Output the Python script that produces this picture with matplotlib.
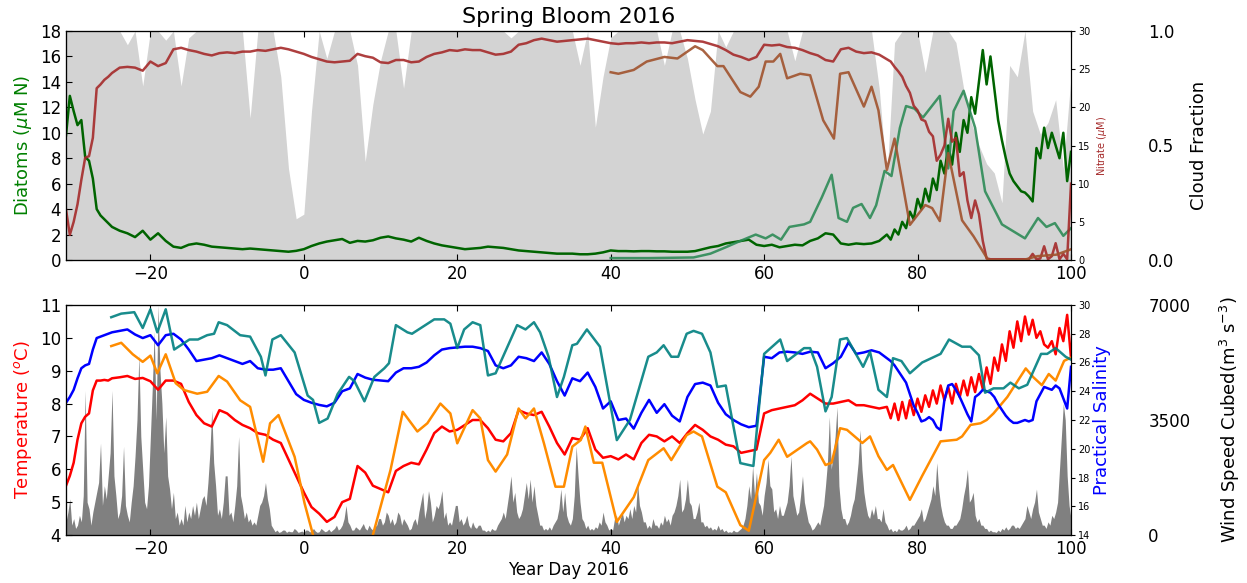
import numpy as np
import matplotlib
matplotlib.use('Agg')
import matplotlib.pyplot as plt

plt.rcParams['font.family'] = ['DejaVu Sans']

# ---------------- data ----------------
# model grid: half-day early, daily middle, half-day late
model_day = np.concatenate([np.arange(-31, -25, 0.5), np.arange(-25, 76, 1.0), np.arange(76, 100.01, 0.5)])

diatoms_early = [9.8, 12.9, 11.7, 10.6, 11.0, 8.1, 7.8, 6.4, 4.0, 3.5, 3.2, 2.9]
diatoms_mid = [
    2.6, 2.3, 2.1, 1.8, 2.3, 1.6, 2.1, 1.5, 1.05, 0.95,
    1.2, 1.3, 1.2, 1.05, 1.0, 0.95, 0.9, 0.85, 0.9, 0.85,
    0.8, 0.75, 0.7, 0.65, 0.72, 0.85, 1.1, 1.3, 1.45, 1.55,
    1.65, 1.35, 1.5, 1.45, 1.55, 1.75, 1.85, 1.7, 1.6, 1.45,
    1.75, 1.5, 1.3, 1.15, 1.05, 0.95, 0.85, 0.9, 0.95, 1.05,
    1.0, 0.95, 0.85, 0.75, 0.7, 0.65, 0.6, 0.55, 0.5, 0.5,
    0.5, 0.45, 0.45, 0.5, 0.6, 0.75, 0.7, 0.7, 0.68, 0.7,
    0.7, 0.68, 0.68, 0.65, 0.65, 0.65, 0.7, 0.85, 1.0, 1.1,
    1.3, 1.4, 1.5, 1.6, 1.2, 1.1, 1.2, 1.0, 1.1, 1.2,
    1.15, 1.5, 1.7, 2.1, 2.0, 1.3, 1.2, 1.3, 1.25, 1.3,
    1.5]
diatoms_late = [
    2.0, 1.6, 2.4, 2.0, 3.0, 2.5, 3.8, 3.2, 4.8, 4.0,
    5.6, 4.6, 6.4, 5.5, 7.8, 6.8, 9.0, 7.5, 10.0, 8.5,
    11.0, 10.0, 12.8, 11.5, 14.0, 16.5, 13.8, 16.0, 13.5, 11.0,
    9.4, 8.0, 6.8, 6.2, 5.8, 5.4, 5.3, 5.0, 4.6, 8.8,
    8.0, 10.4, 8.8, 10.0, 9.0, 8.0, 10.0, 6.2, 8.5]

nitrate_early = [6.6, 3.3, 5.0, 7.3, 10.5, 13.4, 13.6, 16.0, 22.5, 23.0, 23.6, 24.0]
nitrate_mid = [
    24.5, 25.2, 25.3, 25.2, 24.8, 26.0, 25.4, 25.8, 27.6, 27.8,
    27.5, 27.3, 27.0, 26.8, 27.1, 27.2, 27.1, 27.3, 27.3, 27.5,
    27.4, 27.6, 27.8, 27.6, 27.3, 27.0, 26.6, 26.3, 26.0, 25.9,
    26.0, 26.1, 27.0, 26.7, 26.5, 25.9, 25.8, 26.2, 26.2, 25.9,
    26.0, 26.6, 27.0, 27.2, 27.5, 27.4, 27.6, 27.5, 27.5, 27.2,
    26.9, 27.0, 27.3, 28.2, 28.4, 28.8, 29.0, 28.8, 28.6, 28.7,
    28.8, 28.9, 29.0, 28.8, 28.6, 28.4, 28.3, 28.4, 28.4, 28.5,
    28.4, 28.5, 28.5, 28.4, 28.6, 28.8, 28.7, 28.6, 28.3, 28.0,
    27.5, 26.9, 26.6, 26.2, 26.6, 28.2, 28.1, 28.2, 27.9, 27.8,
    27.5, 27.1, 26.8, 26.2, 26.0, 27.6, 27.8, 27.3, 27.1, 27.2,
    26.9]
nitrate_late = [
    26.3, 26.0, 25.3, 24.7, 24.0, 22.8, 21.9, 20.2, 19.6, 18.4,
    18.2, 16.8, 16.2, 13.0, 13.8, 15.0, 18.5, 15.5, 16.0, 11.0,
    11.5, 7.8, 5.5, 7.8, 6.0, 2.5, 0.2, 0.1, 0.1, 0.1,
    0.1, 0.1, 0.1, 0.1, 0.1, 0.1, 0.1, 0.1, 0.8, 0.1,
    0.2, 1.8, 0.1, 0.5, 2.2, 0.1, 0.8, 0.1, 10.0]

temp_early = [5.5, 5.8, 6.2, 6.9, 7.4, 7.6, 7.7, 8.4, 8.7, 8.7, 8.72, 8.7]
temp_mid = [
    8.77, 8.8, 8.84, 8.75, 8.78, 8.68, 8.42, 8.7, 8.7, 8.6,
    8.05, 7.65, 7.4, 7.3, 7.8, 7.7, 7.5, 7.35, 7.25, 7.1,
    7.05, 6.9, 6.8, 6.3, 5.8, 5.3, 4.85, 4.65, 4.4, 4.55,
    5.0, 5.1, 6.1, 5.9, 5.5, 5.4, 5.3, 5.95, 6.1, 6.2,
    6.15, 6.6, 7.1, 7.3, 7.15, 7.2, 7.35, 7.5, 7.5, 7.25,
    6.9, 6.85, 7.1, 7.8, 7.7, 7.65, 7.75, 7.3, 6.8, 6.45,
    6.95, 6.9, 7.25, 6.6, 6.35, 6.4, 6.3, 6.45, 6.3, 6.8,
    7.05, 7.0, 6.85, 7.0, 6.8, 7.1, 7.35, 7.2, 7.0, 6.9,
    6.75, 6.7, 6.5, 6.55, 6.6, 7.7, 7.8, 7.85, 7.9, 7.95,
    8.1, 8.3, 8.15, 8.0, 8.0, 8.05, 8.1, 7.95, 7.95, 7.9,
    7.85]
temp_late = [
    7.9, 7.55, 8.0, 7.5, 8.05, 7.55, 8.1, 7.65, 8.15, 7.75,
    8.25, 7.9, 8.4, 8.0, 8.55, 8.1, 8.5, 8.0, 8.6, 8.2,
    8.7, 8.25, 8.8, 8.35, 8.9, 8.45, 9.1, 8.6, 9.4, 9.0,
    9.8, 9.3, 10.2, 9.7, 10.5, 9.9, 10.65, 10.1, 10.55, 10.0,
    10.2, 9.8, 9.7, 9.9, 9.5, 10.3, 9.9, 10.7, 9.4]

sal_early = [23.2, 23.6, 24.1, 24.9, 25.6, 25.8, 25.9, 26.9, 27.7, 27.8, 27.9, 28.0]
sal_mid = [
    28.1, 28.2, 28.3, 27.95, 27.7, 27.9, 27.2, 27.9, 28.0, 27.6,
    26.9, 26.1, 26.2, 26.3, 26.5, 26.3, 26.1, 25.9, 26.1, 25.6,
    25.5, 25.5, 25.6, 24.7, 23.8, 23.4, 23.2, 23.05, 22.95, 23.2,
    24.0, 24.2, 25.2, 24.95, 24.8, 24.75, 24.7, 25.3, 25.6, 25.6,
    25.7, 26.0, 26.5, 26.9, 27.0, 27.05, 27.1, 27.1, 27.0, 26.8,
    25.8, 25.6, 25.8, 26.4, 26.3, 26.1, 26.7, 25.9, 24.7, 23.7,
    24.9, 24.7, 25.3, 24.3, 22.8, 23.3, 22.0, 22.1, 21.4, 22.5,
    23.4, 22.5, 23.1, 22.3, 21.9, 23.6, 24.5, 24.6, 24.4, 23.2,
    22.4, 22.0, 21.7, 21.5, 21.6, 26.4, 26.3, 26.7, 26.75, 26.7,
    26.6, 26.75, 26.7, 25.6, 25.95, 26.4, 27.4, 26.6, 26.7, 26.85,
    26.7]
sal_late = [
    26.3, 26.1, 25.8, 25.4, 25.0, 24.6, 23.8, 23.0, 22.5, 21.9,
    22.0, 22.2, 22.0, 21.5, 21.3, 23.4, 24.4, 24.5, 24.1, 23.6,
    23.0, 22.4, 21.9, 23.6, 23.8, 24.1, 24.0, 23.9, 23.6, 23.1,
    22.7, 22.3, 22.0, 21.8, 21.8, 21.9, 22.0, 21.9, 22.0, 23.3,
    23.8, 24.3, 24.2, 24.1, 24.4, 24.2, 23.5, 22.8, 25.7]

diatoms = diatoms_early + diatoms_mid + diatoms_late
nitrate = nitrate_early + nitrate_mid + nitrate_late
temperature = temp_early + temp_mid + temp_late
salinity = sal_early + sal_mid + sal_late

# observations
diat_obs_day = [40, 45, 50.8, 53, 55, 56.9, 58.9, 60.2, 61.1, 62.2, 63.3, 65.2, 66, 67.5, 68.8,
                69.7, 70.8, 71.6, 72.7, 73.8, 74.6, 75.7, 76.6, 77.7, 78.5, 79.6, 80.7, 82.9,
                84, 84.7, 86, 87.5, 88.8, 91, 94, 95.7, 96.8, 97.9, 99, 100]
diat_obs = [0.15, 0.15, 0.2, 0.5, 1.0, 1.5, 2.0, 1.7, 2.0, 1.6, 2.6, 2.8, 3.0, 4.9, 6.7,
            3.3, 3.0, 4.1, 4.4, 3.3, 4.3, 7.0, 6.6, 10.4, 12.1, 11.9, 11.2, 12.9,
            7.2, 11.7, 13.3, 10.4, 5.4, 2.8, 1.7, 3.3, 2.6, 2.9, 1.9, 2.5]

nit_obs_day = [40, 41, 43, 44.7, 47, 48.7, 51, 52, 53.9, 54.7, 56.9, 58.2, 59.3, 60.2, 61.2,
               62.1, 63, 64.7, 66, 67.7, 69.1, 69.9, 71, 73, 74, 74.9, 76, 77, 79, 81,
               81.9, 82.9, 84, 85.8, 87.3, 89.2, 93.8, 95.6, 98.1, 100]
nit_obs = [24.6, 24.4, 24.9, 26.0, 26.6, 26.4, 28.0, 27.5, 25.4, 25.4, 22.0, 21.4, 22.7, 26.0, 26.0,
           27.0, 23.8, 24.4, 24.2, 18.3, 15.9, 24.4, 24.6, 20.1, 22.7, 19.6, 11.8, 15.9, 4.6, 7.2,
           6.8, 5.1, 14.0, 5.2, 3.1, 0.0, 0.0, 0.5, 0.7, 1.4]

temp_obs_day = [-25.1, -23.8, -22.3, -21.0, -20.0, -19.1, -18.0, -16.7, -15.6, -13.9, -12.6, -11.1,
                -10.0, -8.3, -7.0, -5.3, -4.4, -3.3, -1.2, 0.1, 1.2, 2.5, 7.8, 9.0, 11.3, 12.9,
                14.8, 16.1, 17.8, 19.1, 20.0, 22.0, 23.0, 24.0, 25.0, 26.5, 28.0, 28.9, 30.0,
                31.3, 32.8, 33.9, 35.0, 36.1, 36.7, 37.8, 38.9, 40.8, 43.0, 44.9, 46.9, 47.9,
                49.9, 50.8, 51.9, 53.9, 55.0, 56.9, 58.0, 60.0, 60.8, 61.9, 63.0, 65.6, 66.0,
                66.9, 68.0, 68.8, 69.9, 70.8, 72.8, 73.8, 74.9, 76.0, 76.8, 79.0, 80.6, 83.0,
                85.1, 85.8, 86.9, 88.2, 89.0, 89.9, 91.7, 94.1, 95.1, 96.2, 97.1, 98.0, 99.1, 100.0]
temp_obs = [9.75, 9.85, 9.5, 9.27, 9.46, 8.92, 9.5, 8.62, 8.41, 8.3, 8.36, 8.84,
            8.67, 8.1, 7.9, 6.23, 7.4, 7.65, 6.38, 4.96, 4.0, 3.0, 3.3, 4.0, 5.98, 7.75,
            7.15, 7.4, 8.0, 7.7, 6.79, 7.8, 7.55, 6.28, 5.93, 6.45, 7.85, 7.55, 7.85,
            6.79, 5.47, 5.47, 6.69, 6.89, 7.3, 6.2, 6.2, 4.4, 5.15, 6.28, 6.64, 6.28,
            7.04, 7.15, 7.0, 5.47, 5.3, 4.3, 4.13, 6.28, 6.5, 6.9, 6.38, 6.8, 6.85,
            6.6, 6.13, 6.2, 7.25, 7.2, 6.8, 7.0, 6.4, 5.98, 6.13, 5.07, 5.8, 6.85,
            6.9, 7.0, 7.35, 7.4, 7.5, 7.7, 8.2, 9.07, 8.8, 8.56, 8.9, 8.7, 9.3, 9.4]

sal_obs_day = [-25.1, -23.8, -22.1, -21.0, -20.0, -19.1, -18.0, -16.9, -14.9, -13.8, -12.6, -11.7,
               -11.1, -10.0, -8.3, -7.0, -5.6, -5.0, -4.1, -3.0, -1.2, 0.5, 1.2, 2.0, 3.1, 4.4,
               5.9, 6.6, 7.9, 9.2, 10.5, 11.1, 12.0, 13.5, 14.1, 17.0, 18.3, 19.1, 20.0, 20.9,
               22.0, 23.0, 24.0, 25.0, 27.8, 28.9, 30.0, 30.8, 31.9, 33.0, 33.9, 35.0, 35.6,
               36.9, 38.6, 40.8, 42.5, 44.9, 46.0, 46.9, 47.9, 48.8, 49.9, 50.8, 51.9, 53.0,
               53.9, 55.0, 56.9, 58.6, 60.0, 62.1, 63.0, 65.2, 66.0, 66.9, 68.0, 68.8, 69.9,
               70.8, 72.9, 73.8, 74.9, 76.0, 76.8, 77.9, 79.0, 80.6, 83.0, 84.1, 85.8, 86.9,
               88.0, 88.8, 89.9, 91.2, 92.1, 93.2, 94.3, 96.1, 96.9, 98.0, 99.3, 100.0]
sal_obs = [29.15, 29.4, 29.5, 28.4, 29.7, 28.1, 29.7, 26.9, 27.6, 27.6, 27.9, 28.0,
           28.8, 28.6, 27.9, 27.8, 26.4, 25.1, 27.6, 27.9, 26.7, 23.7, 23.4, 21.8, 22.1, 23.8,
           25.0, 24.7, 23.3, 25.0, 25.6, 25.95, 28.6, 28.1, 28.0, 29.0, 29.0, 28.7, 27.0, 28.3,
           28.8, 28.6, 25.1, 25.25, 28.6, 28.3, 28.8, 28.1, 26.4, 23.6, 25.0, 27.2, 27.3,
           28.3, 27.1, 20.6, 22.0, 26.4, 26.7, 27.2, 26.4, 26.4, 28.0, 28.2, 28.0, 26.7,
           24.3, 24.4, 19.0, 18.8, 26.6, 27.6, 26.1, 27.0, 27.0, 25.7, 22.6, 23.6, 27.6,
           27.7, 25.7, 26.75, 24.1, 23.6, 26.3, 26.1, 25.25, 26.0, 26.6, 27.6, 27.1, 27.1,
           26.5, 23.9, 24.2, 24.2, 24.6, 24.2, 24.45, 26.6, 26.6, 27.0, 26.4, 26.2]

cloud_day = np.arange(-31, 101, 1.0)
cloud_frac = [
    1, 1, 1, 1, 1, 1, 1, 1, 0.94, 1.0,
    0.76, 1.0, 1.0, 0.96, 1.0, 0.76, 0.97, 1, 1, 1,
    1, 1, 1, 1, 0.62, 1, 1, 1, 0.8, 0.4,
    0.18, 0.2, 0.65, 1.0, 0.88, 1, 1, 1, 0.85, 0.43,
    0.68, 0.87, 1, 1, 0.75, 1, 1, 1, 1, 1,
    1, 1, 1, 1, 1, 1, 1, 1, 0.97, 1,
    1, 1, 1, 1, 1, 1, 1, 0.85, 1.0, 0.58,
    0.8, 0.97, 1, 1, 1, 1, 1, 1, 0.85, 1,
    1, 0.88, 0.7, 0.55, 0.65, 1.0, 0.93, 1, 1, 1,
    1, 1, 1, 1, 1, 0.87, 1, 1, 1, 1,
    1, 1, 1, 1, 1, 1, 0.75, 0.35, 0.95, 1,
    1, 1, 0.82, 1, 1, 1, 0.95, 0.75, 0.6, 0.5,
    0.42, 0.38, 0.25, 0.85, 0.8, 1.0, 0.65, 0.55, 0.6, 0.7,
    0.4, 0.8]

# wind speed cubed, quarter-day samples from day -31 to day 100 (each row = 5 days)
wind_day = np.arange(-31, 100.01, 0.25)
wind_cubed = [
    400, 700, 1100, 300, 500, 200, 300, 600, 400, 1200, 4400, 1000, 800, 300, 700, 1000, 1300, 1600, 2800, 900,
    1500, 1100, 1800, 2500, 4400, 1800, 1200, 500, 700, 1200, 2700, 900, 600, 400, 1000, 1500, 2400, 3500, 5500, 3000,
    2000, 1000, 800, 1500, 3000, 4500, 6200, 3500, 7000, 5000, 4000, 2500, 3600, 1800, 1400, 800, 1300, 500, 700, 300,
    500, 300, 900, 400, 700, 500, 900, 600, 1000, 500, 800, 1100, 1200, 900, 1600, 2500, 3800, 2200, 1500, 600,
    800, 500, 1000, 1800, 1800, 600, 700, 400, 900, 1500, 3000, 1200, 900, 500, 700, 400, 500, 300, 400, 300,
    600, 900, 1000, 1200, 1600, 1100, 800, 300, 200, 100, 150, 80, 100, 150, 150, 80, 120, 100, 100, 200,
    150, 80, 100, 120, 80, 150, 150, 100, 100, 200, 120, 80, 100, 200, 150, 100, 120, 180, 100, 150,
    200, 300, 150, 200, 300, 500, 900, 400, 300, 150, 150, 250, 200, 150, 250, 350, 200, 150, 300, 200,
    150, 250, 300, 500, 500, 300, 400, 700, 600, 350, 500, 300, 400, 700, 600, 300, 500, 400, 300, 150,
    200, 400, 500, 300, 700, 1000, 1300, 500, 800, 1350, 1000, 400, 600, 900, 800, 1000, 1350, 500, 700, 300,
    400, 300, 600, 900, 900, 400, 500, 300, 400, 600, 300, 200, 400, 250, 200, 300, 300, 150, 150, 100,
    150, 100, 200, 150, 150, 300, 400, 500, 700, 500, 900, 1300, 1800, 1000, 1300, 700, 500, 600, 800, 1200,
    1600, 1100, 1700, 1000, 1500, 900, 600, 300, 300, 150, 200, 150, 250, 150, 300, 400, 500, 800, 1400, 700,
    1300, 600, 400, 300, 500, 1200, 2700, 1800, 1000, 500, 400, 200, 300, 150, 200, 150, 250, 200, 400, 300,
    700, 400, 300, 150, 200, 150, 500, 600, 300, 500, 700, 400, 600, 500, 800, 500, 900, 700, 1600, 900,
    700, 400, 400, 200, 300, 200, 500, 300, 300, 200, 400, 300, 600, 400, 500, 300, 600, 700, 900, 1200,
    1700, 700, 800, 1100, 1700, 1000, 900, 500, 500, 700, 1000, 400, 400, 250, 300, 200, 250, 150, 200, 150,
    300, 150, 200, 100, 150, 80, 100, 80, 150, 100, 100, 150, 200, 300, 500, 900, 1500, 1100, 2100, 1200,
    1900, 1000, 900, 600, 1200, 1600, 2300, 1500, 1400, 700, 800, 500, 900, 600, 600, 800, 1000, 1500, 2400, 1200,
    900, 600, 700, 1200, 1800, 1000, 700, 400, 300, 150, 200, 300, 400, 300, 600, 900, 1500, 2200, 3600, 2000,
    2500, 3000, 3900, 1500, 800, 500, 500, 300, 400, 600, 900, 1100, 1600, 2200, 3200, 2000, 1300, 900, 600, 500,
    800, 600, 900, 500, 500, 400, 800, 400, 300, 150, 200, 100, 150, 100, 200, 150, 150, 200, 300, 150,
    200, 300, 300, 400, 500, 600, 800, 400, 500, 700, 900, 1100, 1500, 1200, 2200, 1400, 900, 600, 400, 300,
    300, 200, 200, 300, 300, 400, 500, 800, 1200, 1500, 2000, 1000, 1100, 1300, 600, 400, 500, 300, 300, 200,
    200, 100, 150, 100, 100, 80, 150, 100, 200, 150, 250, 150, 200, 300, 300, 200, 250, 200, 300, 400,
    500, 900, 700, 500, 800, 1000, 1400, 700, 500, 300, 300, 200, 400, 300, 600, 500, 700, 1000, 2000, 3000,
    4000, 3500, 1800, 900, 500]

# ---------------- figure ----------------
W, H = 1247, 583
fig = plt.figure(figsize=(W / 100, H / 100), dpi=100)
ax1 = fig.add_axes([66 / W, 1 - 260 / H, 1005 / W, 229 / H])
ax2 = fig.add_axes([66 / W, 1 - 535 / H, 1005 / W, 230 / H])

LW = 1.8

# --- top panel ---
ax1c = ax1.twinx()
ax1n = ax1.twinx()
ax1c.set_zorder(0)
ax1.set_zorder(1)
ax1n.set_zorder(2)
ax1.patch.set_visible(False)

ax1c.fill_between(cloud_day, 0, cloud_frac, color='lightgrey', lw=0)
ax1c.set_ylim(0, 1)
ax1c.set_yticks([0, 0.5, 1.0])
ax1c.spines['right'].set_position(('axes', 1.07))
ax1c.spines['right'].set_visible(False)
ax1c.tick_params(axis='y', length=0, pad=5, labelsize=12)
ax1c.set_ylabel('Cloud Fraction', fontsize=13, labelpad=11)

ax1.plot(model_day, diatoms, color='darkgreen', lw=LW)
ax1.plot(diat_obs_day, diat_obs, color='seagreen', lw=LW, alpha=0.9)
ax1n.plot(model_day, nitrate, color='brown', lw=LW, alpha=0.9)
ax1n.plot(nit_obs_day, nit_obs, color='sienna', lw=LW, alpha=0.9)

ax1.set_xlim(-31, 100)
ax1.set_ylim(0, 18)
ax1.set_yticks(np.arange(0, 19, 2))
ax1n.set_ylim(0, 30)
ax1n.set_yticks(np.arange(0, 31, 5))
ax1.set_ylabel(r'Diatoms ($\mu$M N)', color='green', fontsize=13)
ax1n.set_ylabel(r'Nitrate ($\mu$M)', color='brown', fontsize=7, labelpad=3)
ax1.set_title('Spring Bloom 2016', fontsize=16)

# --- bottom panel ---
ax2w = ax2.twinx()
ax2s = ax2.twinx()
ax2w.set_zorder(0)
ax2.set_zorder(1)
ax2s.set_zorder(2)
ax2.patch.set_visible(False)

ax2w.fill_between(wind_day, 0, wind_cubed, color='grey', lw=0)
ax2w.set_ylim(0, 7000)
ax2w.set_yticks([0, 3500, 7000])
ax2w.spines['right'].set_position(('axes', 1.07))
ax2w.spines['right'].set_visible(False)
ax2w.tick_params(axis='y', length=0, pad=5, labelsize=12)
ax2w.set_ylabel(r'Wind Speed Cubed(m$^3$ s$^{-3}$)', fontsize=13, labelpad=20)

ax2.plot(model_day, temperature, color='red', lw=LW)
ax2.plot(temp_obs_day, temp_obs, color='darkorange', lw=LW)
ax2s.plot(model_day, salinity, color='blue', lw=LW)
ax2s.plot(sal_obs_day, sal_obs, color='teal', lw=LW, alpha=0.9)

ax2.set_xlim(-31, 100)
ax2.set_ylim(4, 11)
ax2.set_yticks(np.arange(4, 12, 1))
ax2s.set_ylim(14, 30)
ax2s.set_yticks(np.arange(14, 31, 2))
ax2.set_ylabel(r'Temperature ($^o$C)', color='red', fontsize=13)
ax2s.set_ylabel('Practical Salinity', color='blue', fontsize=13, labelpad=2)
ax2.set_xlabel('Year Day 2016', fontsize=12, labelpad=2)

for a in (ax1, ax2):
    a.set_xticks(np.arange(-20, 101, 20))
    a.tick_params(axis='both', direction='in', labelsize=12, length=4, top=True)
for a in (ax1n, ax2s):
    a.tick_params(axis='y', direction='out', labelsize=7, length=3, pad=2)

fig.savefig('out.png', dpi=100)
